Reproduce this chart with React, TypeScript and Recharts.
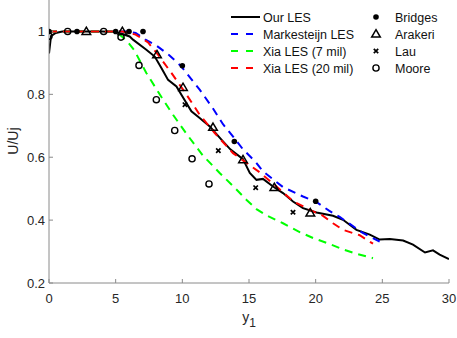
import { ComposedChart, Legend, Line, Scatter, XAxis, YAxis } from "recharts";

// axis ticks
const xTicks = [0, 5, 10, 15, 20, 25, 30];
const yTicks = [0.2, 0.4, 0.6, 0.8, 1];

// simulation profiles (y1 vs U/Uj)
const ourLesX = [0, 0.15, 0.5, 1, 2, 3, 4, 5, 5.5, 6.05, 6.3, 7.3, 7.93, 8.43, 8.93, 9.56, 9.93, 10.68, 11.3, 12.06, 12.93, 13.6, 14.55, 15.06, 15.56, 16.05, 16.8, 17.55, 18.3, 19.05, 20.06, 21.3, 22.05, 23.06, 24.06, 24.8, 25.56, 26.56, 27.3, 28.2, 28.8, 29.3, 30];
const ourLesY = [0.93, 0.985, 0.995, 1, 1, 1, 1, 0.998, 0.992, 0.984, 0.974, 0.942, 0.92, 0.884, 0.846, 0.825, 0.799, 0.746, 0.725, 0.698, 0.656, 0.625, 0.594, 0.55, 0.528, 0.531, 0.507, 0.486, 0.459, 0.438, 0.424, 0.414, 0.401, 0.369, 0.354, 0.338, 0.34, 0.335, 0.322, 0.297, 0.304, 0.29, 0.276];

const markX = [0, 1, 2, 3, 4, 5, 6, 6.5, 7.2, 8.06, 9.0, 9.9, 11.3, 12.3, 13.05, 14.0, 14.55, 15.5, 16.05, 17.55, 19.05, 20.05, 21.0, 21.8, 22.5, 23.5, 24.8];
const markY = [1, 1, 1, 1, 1, 1, 1, 0.995, 0.975, 0.955, 0.925, 0.89, 0.815, 0.755, 0.705, 0.655, 0.625, 0.585, 0.555, 0.505, 0.475, 0.458, 0.43, 0.41, 0.39, 0.36, 0.332];

const xia7X = [0, 1, 2, 3, 4, 4.7, 5.3, 5.9, 6.4, 7.3, 8.3, 9.3, 10.3, 11.55, 12.8, 14.0, 14.8, 15.56, 16.3, 17.55, 18.8, 19.8, 21.0, 22.05, 23.06, 24.3];
const xia7Y = [1, 1, 1, 1, 1, 1, 0.99, 0.967, 0.94, 0.868, 0.8, 0.735, 0.675, 0.605, 0.55, 0.5, 0.465, 0.435, 0.415, 0.39, 0.362, 0.343, 0.325, 0.307, 0.293, 0.279];

const xia20X = [0, 1, 2, 3, 4, 5, 5.5, 6.5, 7.43, 8.18, 9.18, 10.3, 11.3, 12.43, 13.8, 14.55, 15.8, 17.06, 18.3, 19.8, 20.5, 21.3, 22.05, 23.3, 24.3];
const xia20Y = [1, 1, 1, 1, 1, 1, 1, 0.99, 0.965, 0.926, 0.868, 0.8, 0.735, 0.677, 0.613, 0.59, 0.552, 0.507, 0.46, 0.428, 0.415, 0.39, 0.369, 0.352, 0.325];

// experiments
const bridgesX = [0, 2.1, 5.0, 6.0, 7.05, 10.0, 13.9, 20.0];
const bridgesY = [1.0, 1.0, 1.0, 1.0, 1.0, 0.891, 0.65, 0.46];
const arakeriX = [2.8, 5.5, 8.1, 10.05, 12.3, 14.55, 16.9, 19.6];
const arakeriY = [1.0, 1.0, 0.926, 0.822, 0.695, 0.592, 0.504, 0.423];
const lauX = [10.2, 12.7, 15.5, 18.3];
const lauY = [0.767, 0.621, 0.503, 0.425];
const mooreX = [0, 1.4, 4.1, 5.4, 6.75, 8.05, 9.43, 10.73, 12.0];
const mooreY = [0.985, 1.0, 1.0, 0.982, 0.892, 0.783, 0.685, 0.595, 0.515];

const pts = (xs: number[], ys: number[]) => xs.map((x, i) => ({ x, y: ys[i] }));

const FONT = "'Liberation Sans', Arial, Helvetica, sans-serif";
const AXIS = "#8a8a8a";
const TEXT = "#262626";
const DASH = "8 6";

const Dot = ({ cx, cy }: any) => <circle cx={cx} cy={cy} r={2.8} fill="#000" />;
const Ring = ({ cx, cy }: any) => <circle cx={cx} cy={cy} r={3.1} fill="none" stroke="#000" strokeWidth={1.4} />;
const Tri = ({ cx, cy }: any) => (
  <path d={`M${cx},${cy - 4.3}L${cx + 4.3},${cy + 3}L${cx - 4.3},${cy + 3}Z`} fill="none" stroke="#000" strokeWidth={1.5} />
);
const Cross = ({ cx, cy }: any) => (
  <path d={`M${cx - 2.2},${cy - 2.2}L${cx + 2.2},${cy + 2.2}M${cx - 2.2},${cy + 2.2}L${cx + 2.2},${cy - 2.2}`} stroke="#000" strokeWidth={1.7} />
);

const lineKeys = [
  { name: "Our LES", color: "#000", dash: undefined },
  { name: "Markesteijn LES", color: "#0000ff", dash: "7 8" },
  { name: "Xia LES (7 mil)", color: "#00ff00", dash: "7 8" },
  { name: "Xia LES (20 mil)", color: "#ff0000", dash: "7 8" },
];
const markerKeys = [
  { name: "Bridges", Shape: Dot },
  { name: "Arakeri", Shape: Tri },
  { name: "Lau", Shape: Cross },
  { name: "Moore", Shape: Ring },
];

function LegendBox() {
  return (
    <svg width={229} height={76} style={{ display: "block" }}>
      {lineKeys.map((k, i) => (
        <g key={k.name}>
          <line x1={3} x2={32} y1={11 + i * 17} y2={11 + i * 17} stroke={k.color} strokeWidth={2} strokeDasharray={k.dash} />
          <text x={35} y={15.5 + i * 17} fontSize={12.5} fontFamily={FONT} fill="#111">{k.name}</text>
        </g>
      ))}
      {markerKeys.map(({ name, Shape }, i) => (
        <g key={name}>
          <Shape cx={148} cy={11 + i * 17} />
          <text x={167} y={15.5 + i * 17} fontSize={12.5} fontFamily={FONT} fill="#111">{name}</text>
        </g>
      ))}
    </svg>
  );
}

const YLabel = () => (
  <text x={17.5} y={141} transform="rotate(-90 17.5 141)" textAnchor="middle" fontSize={14} fontFamily={FONT} fill={TEXT}>
    U/Uj
  </text>
);

const XLabel = () => (
  <text x={249} y={322} textAnchor="middle" fontSize={14} fontFamily={FONT} fill={TEXT}>
    y<tspan fontSize={12} dy={5}>1</tspan>
  </text>
);

export default function App() {
  const tickStyle = { fontSize: 13, fontFamily: FONT, fill: TEXT };
  return (
    <div style={{ position: "absolute", left: 0, top: 0, width: 457, height: 338, background: "#fff" }}>
      <ComposedChart width={457} height={338} margin={{ top: 0, right: 8, bottom: 0, left: 0 }}>
        <XAxis xAxisId="b" type="number" dataKey="x" domain={[0, 30]} ticks={xTicks} allowDataOverflow
          height={55} tickSize={-4} tickMargin={15} tick={tickStyle} stroke={AXIS} label={<XLabel />} />
        <XAxis xAxisId="t" orientation="top" type="number" dataKey="x" domain={[0, 30]} ticks={xTicks} allowDataOverflow
          height={0} tickSize={-4} tick={false} stroke={AXIS} />
        <YAxis yAxisId="l" type="number" domain={[0.2, 1.1]} ticks={yTicks} allowDataOverflow
          width={49} tickSize={-4} tickMargin={8} tick={tickStyle} stroke={AXIS} label={<YLabel />} />
        <YAxis yAxisId="r" orientation="right" type="number" domain={[0.2, 1.1]} ticks={yTicks} allowDataOverflow
          width={0} tickSize={-4} tick={false} stroke={AXIS} />

        <Line xAxisId="b" yAxisId="l" data={pts(ourLesX, ourLesY)} dataKey="y" type="linear" stroke="#000" strokeWidth={2} dot={false} isAnimationActive={false} />
        <Line xAxisId="b" yAxisId="l" data={pts(markX, markY)} dataKey="y" type="linear" stroke="#0000ff" strokeWidth={2} strokeDasharray={DASH} dot={false} isAnimationActive={false} />
        <Line xAxisId="b" yAxisId="l" data={pts(xia7X, xia7Y)} dataKey="y" type="linear" stroke="#00ff00" strokeWidth={2} strokeDasharray={DASH} dot={false} isAnimationActive={false} />
        <Line xAxisId="b" yAxisId="l" data={pts(xia20X, xia20Y)} dataKey="y" type="linear" stroke="#ff0000" strokeWidth={2} strokeDasharray={DASH} dot={false} isAnimationActive={false} />

        <Scatter xAxisId="b" yAxisId="l" data={pts(bridgesX, bridgesY)} dataKey="y" shape={Dot} isAnimationActive={false} />
        <Scatter xAxisId="b" yAxisId="l" data={pts(arakeriX, arakeriY)} dataKey="y" shape={Tri} isAnimationActive={false} />
        <Scatter xAxisId="b" yAxisId="l" data={pts(lauX, lauY)} dataKey="y" shape={Cross} isAnimationActive={false} />
        <Scatter xAxisId="b" yAxisId="l" data={pts(mooreX, mooreY)} dataKey="y" shape={Ring} isAnimationActive={false} />

        <Legend layout="horizontal" verticalAlign="middle" align="center" content={<LegendBox />}
          wrapperStyle={{ left: 228, top: 6, width: 229, height: 76 }} />
      </ComposedChart>
    </div>
  );
}
